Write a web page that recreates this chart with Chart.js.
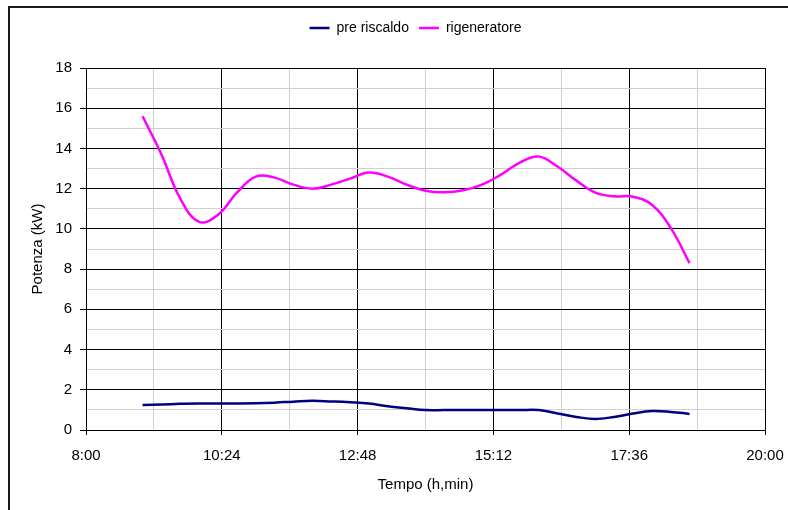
<!DOCTYPE html>
<html>
<head>
<meta charset="utf-8">
<script src="https://cdn.jsdelivr.net/npm/chart.js@4.4.1/dist/chart.umd.min.js"></script>
<style>
    body { margin: 0; background: #fff; }
    #wrap { width: 788px; height: 510px; }
</style>
</head>
<body>
<div id="wrap"><canvas id="potenzaChart" width="788" height="510"></canvas></div>
<script>
// orari di misura (ogni 20 minuti)
const orari = ['9:00', '9:20', '9:40', '10:00', '10:20', '10:40', '11:00', '11:20', '11:40', '12:00',
    '12:20', '12:40', '13:00', '13:20', '13:40', '14:00', '14:20', '14:40', '15:00', '15:20',
    '15:40', '16:00', '16:20', '16:40', '17:00', '17:20', '17:40', '18:00', '18:20', '18:40'];

const preRiscaldo = [1.24, 1.27, 1.30, 1.32, 1.32, 1.32, 1.33, 1.36, 1.41, 1.45,
    1.42, 1.38, 1.32, 1.18, 1.08, 0.99, 0.99, 0.99, 0.99, 0.99,
    0.99, 0.99, 0.82, 0.65, 0.55, 0.65, 0.82, 0.94, 0.90, 0.80];

const rigeneratore = [15.6, 13.7, 11.5, 10.35, 10.7, 11.8, 12.6, 12.55, 12.2, 12.0,
    12.2, 12.5, 12.8, 12.6, 12.2, 11.9, 11.82, 11.92, 12.2, 12.7,
    13.3, 13.6, 13.1, 12.4, 11.8, 11.62, 11.6, 11.2, 10.05, 8.3];

const tickOrari = ['8:00', '10:24', '12:48', '15:12', '17:36', '20:00'];

const FONT = "'Liberation Sans', Arial, sans-serif";

// minuti dalle 8:00
function minuti(s) {
    const p = s.split(':');
    return (parseInt(p[0]) - 8) * 60 + parseInt(p[1]);
}

function serie(valori) {
    return orari.map((o, i) => ({ x: minuti(o), y: valori[i] }));
}

const framePlugin = {
    id: 'frame',
    beforeInit(chart) {
        const fit = chart.legend.fit;
        chart.legend.fit = function () {
            fit.call(this);
            this.height = 57;
        };
    },
    afterLayout(chart) {
        chart.legend.left += 28;
        chart.legend.right += 28;
    },
    beforeDraw(chart) {
        const ctx = chart.ctx;
        ctx.save();
        ctx.fillStyle = '#fff';
        ctx.fillRect(0, 0, chart.width, chart.height);
        ctx.strokeStyle = '#1a1a1a';
        ctx.lineWidth = 2;
        ctx.beginPath();
        ctx.moveTo(9, chart.height);
        ctx.lineTo(9, 7);
        ctx.lineTo(chart.width, 7);
        ctx.stroke();
        ctx.restore();
    }
};

function createPotenzaChart() {
    const canvas = document.getElementById('potenzaChart').getContext('2d');

    new Chart(canvas, {
        type: 'line',
        data: {
            datasets: [{
                label: 'pre riscaldo',
                data: serie(preRiscaldo),
                borderColor: '#000080',
                backgroundColor: '#000080',
                borderWidth: 2.5,
                pointRadius: 0,
                tension: 0.4
            }, {
                label: 'rigeneratore',
                data: serie(rigeneratore),
                borderColor: '#ff00ff',
                backgroundColor: '#ff00ff',
                borderWidth: 2.5,
                pointRadius: 0,
                tension: 0.4
            }]
        },
        options: {
            responsive: false,
            animation: false,
            layout: { padding: { top: 11, left: 10, right: 23, bottom: 10 } },
            plugins: {
                legend: {
                    position: 'top',
                    labels: {
                        usePointStyle: true,
                        pointStyle: 'line',
                        pointStyleWidth: 20,
                        padding: 10,
                        color: '#000',
                        font: { family: FONT, size: 14 }
                    }
                },
                tooltip: { enabled: false }
            },
            scales: {
                x: {
                    type: 'linear',
                    min: 0,
                    max: 720,
                    afterFit(scale) {
                        scale.height = 70;
                        scale.paddingRight = 23;
                    },
                    border: { color: '#000', width: 1 },
                    grid: {
                        color: ctx => ctx.tick.value % 144 === 0 ? '#000' : '#d0d0d0',
                        tickColor: ctx => ctx.tick.value % 144 === 0 ? '#000' : 'rgba(0,0,0,0)',
                        tickLength: 5,
                        lineWidth: 1
                    },
                    ticks: {
                        stepSize: 72,
                        autoSkip: false,
                        maxRotation: 0,
                        padding: 12,
                        color: '#000',
                        font: { family: FONT, size: 15 },
                        callback: v => v % 144 === 0 ? tickOrari[v / 144] : ''
                    },
                    title: {
                        display: true,
                        text: 'Tempo (h,min)',
                        color: '#000',
                        font: { family: FONT, size: 15 },
                        padding: { top: 0, bottom: 6 }
                    }
                },
                y: {
                    min: 0,
                    max: 18,
                    afterFit(scale) { scale.width = 76; },
                    border: { color: '#000', width: 1 },
                    grid: {
                        color: ctx => ctx.tick.value % 2 === 0 ? '#000' : '#d0d0d0',
                        tickColor: ctx => ctx.tick.value % 2 === 0 ? '#000' : 'rgba(0,0,0,0)',
                        tickLength: 6,
                        lineWidth: 1
                    },
                    ticks: {
                        stepSize: 1,
                        autoSkip: false,
                        padding: 8,
                        color: '#000',
                        font: { family: FONT, size: 15 },
                        callback: v => v % 2 === 0 ? String(v) : ''
                    },
                    title: {
                        display: true,
                        text: 'Potenza (kW)',
                        color: '#000',
                        font: { family: FONT, size: 15 },
                        padding: { top: 19, bottom: 0 }
                    }
                }
            }
        },
        plugins: [framePlugin]
    });
}

createPotenzaChart();
</script>
</body>
</html>
